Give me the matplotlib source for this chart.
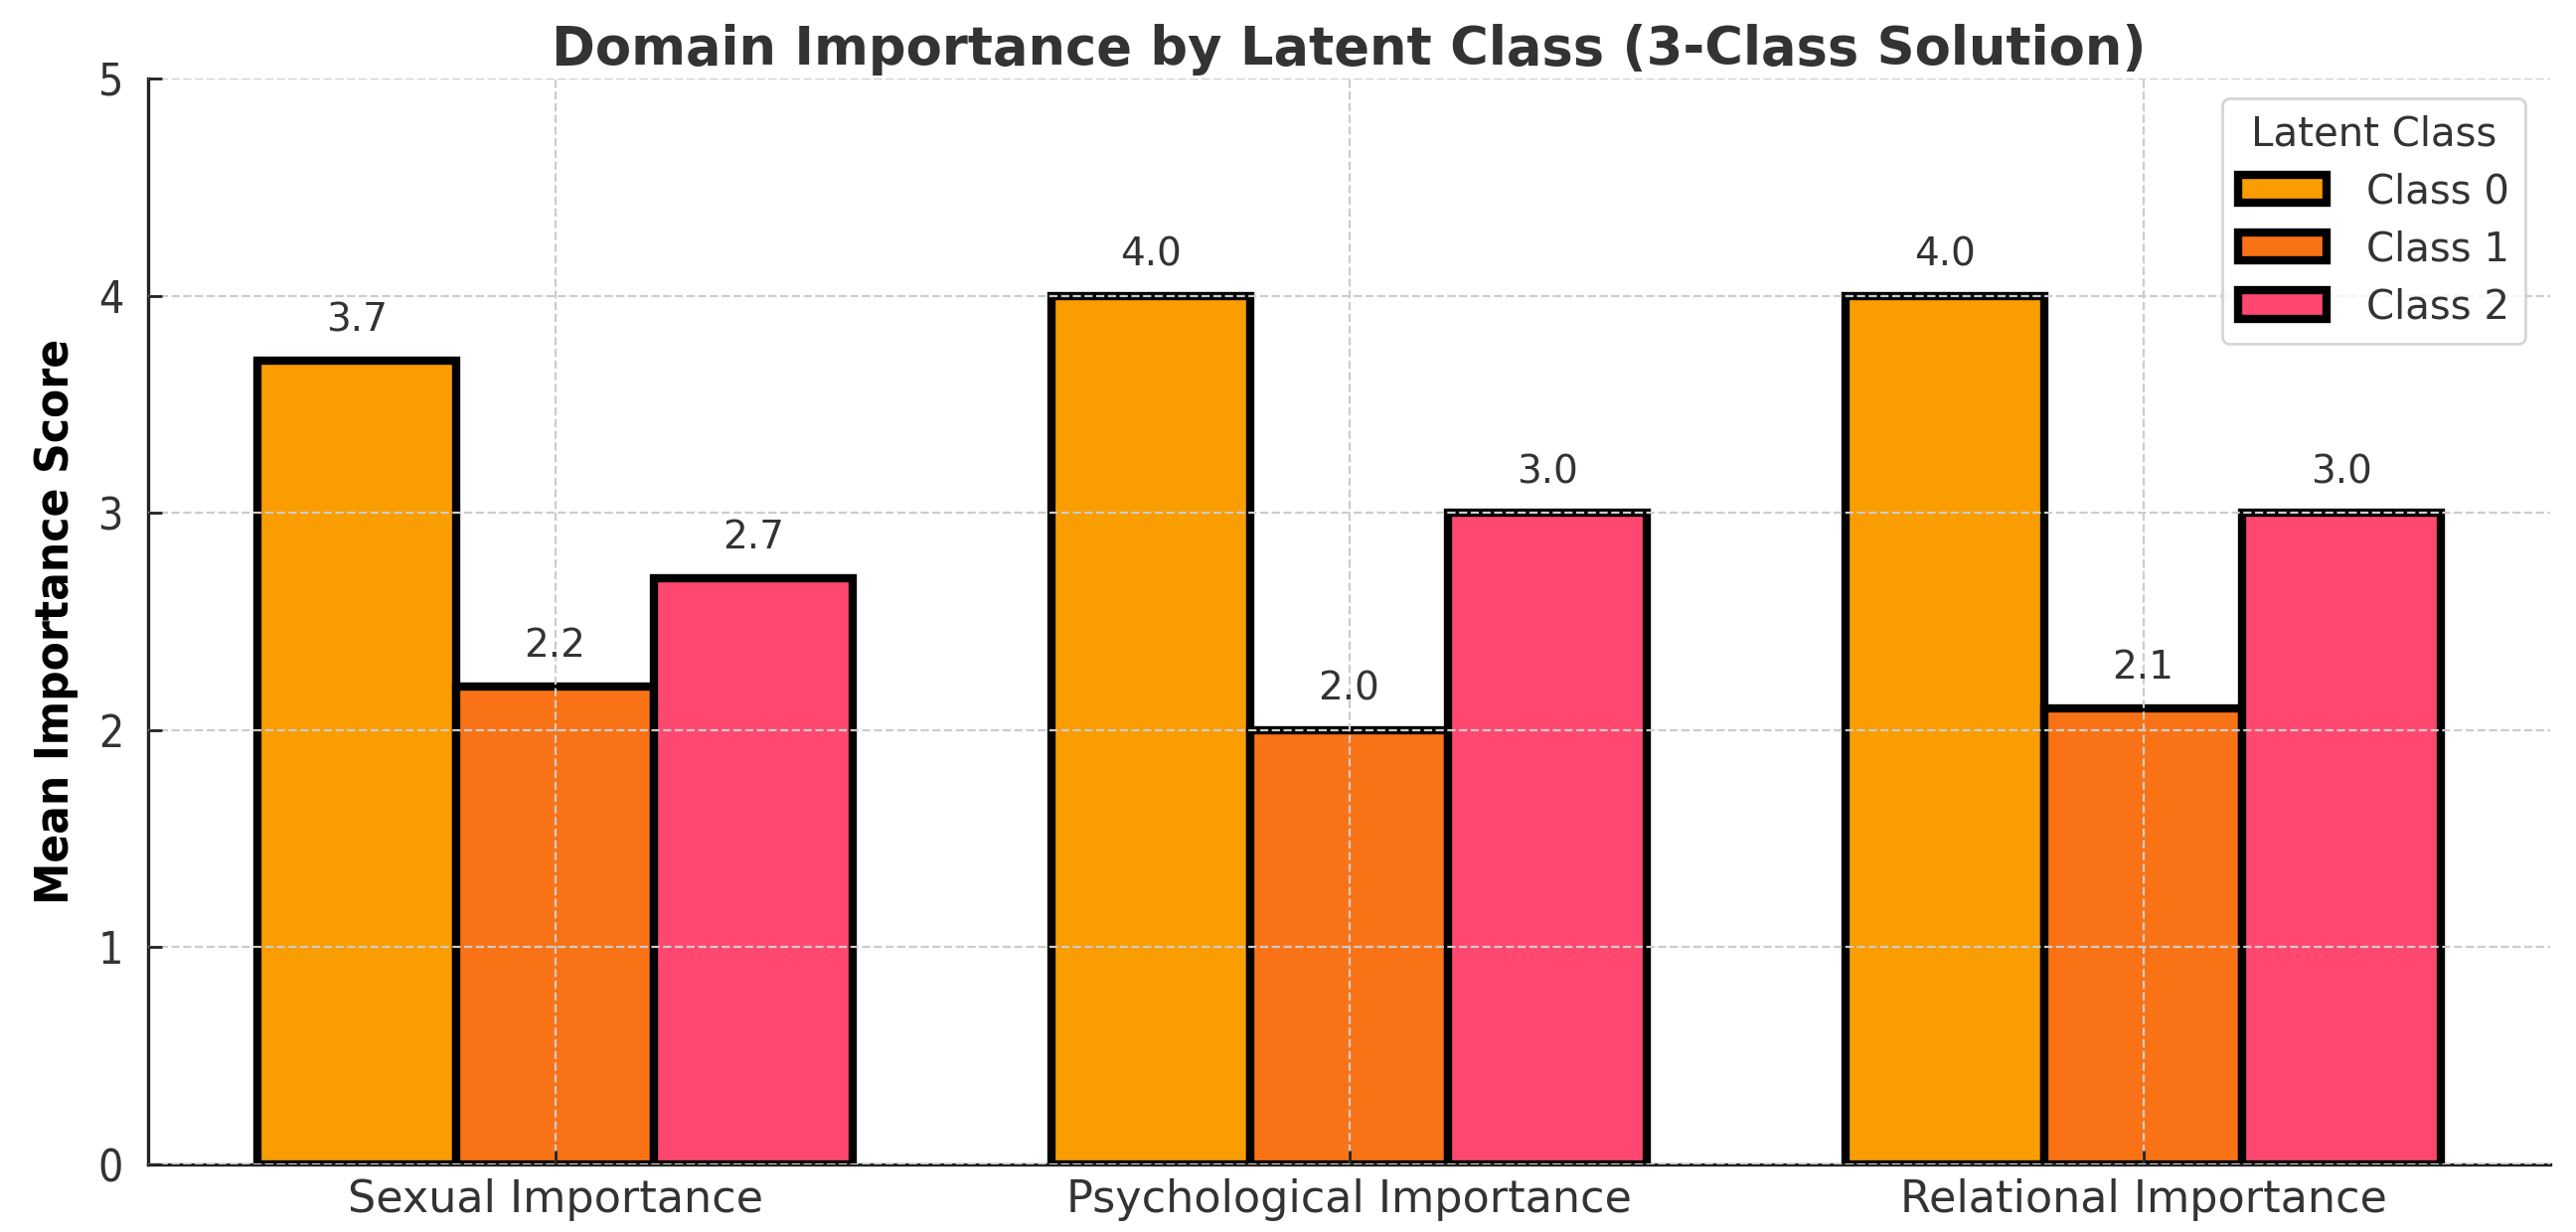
import matplotlib
matplotlib.use("Agg")
import matplotlib.pyplot as plt
import numpy as np

categories = ["Sexual Importance", "Psychological Importance", "Relational Importance"]
class_labels = ["Class 0", "Class 1", "Class 2"]
class0 = [3.7, 4.0, 4.0]
class1 = [2.2, 2.0, 2.1]
class2 = [2.7, 3.0, 3.0]
yticks = [0, 1, 2, 3, 4, 5]

colors = ["#F99D00", "#F97316", "#FF476F"]
txt = "#333333"

fig = plt.figure(figsize=(12.96, 6.2), dpi=200)
ax = fig.add_axes([0.0575, 0.0548, 0.9325, 0.8815])

x = np.arange(len(categories))
w = 0.25
series = [class0, class1, class2]
for i, (vals, lab, c) in enumerate(zip(series, class_labels, colors)):
    bars = ax.bar(x + (i - 1) * w, vals, w, label=lab, color=c,
                  edgecolor="black", linewidth=3, zorder=2)
    for b, v in zip(bars, vals):
        ax.text(b.get_x() + b.get_width() / 2, v + 0.1, f"{v:.1f}",
                ha="center", va="bottom", fontsize=14, color=txt, zorder=4)

ax.set_ylim(0, 5)
ax.set_yticks(yticks)
ax.set_xticks(x)
ax.set_xticklabels(categories, fontsize=16, color=txt)
for t in ax.get_yticklabels():
    t.set_fontsize(16)
    t.set_color(txt)
    t.set_fontstretch("condensed")
ax.grid(True, linestyle="--", color="#cccccc", linewidth=0.8, zorder=3)
ax.set_axisbelow(False)
for s in ["top", "right"]:
    ax.spines[s].set_visible(False)
for s in ["left", "bottom"]:
    ax.spines[s].set_color("#222222")
    ax.spines[s].set_linewidth(1.2)
ax.tick_params(axis="y", direction="in", length=5, width=1, color="#222222", pad=9)
ax.tick_params(axis="x", direction="in", length=5, width=1, color="#222222", pad=5)

ax.set_ylabel("Mean Importance Score", fontsize=17, fontweight="bold", color="black",
              fontstretch="condensed")
ax.yaxis.set_label_coords(-0.029, 0.5)
ax.set_title("Domain Importance by Latent Class (3-Class Solution)", fontsize=19,
             fontweight="bold", color=txt, pad=5)

leg = ax.legend(title="Latent Class", fontsize=14.5, title_fontsize=14.5, loc="upper right",
                bbox_to_anchor=(0.998, 1.0), frameon=True, fancybox=True,
                handlelength=2.2, handleheight=0.7, borderpad=0.4, labelspacing=0.45,
                handletextpad=1.0)
leg.get_frame().set_edgecolor("#cccccc")
leg.get_title().set_color(txt)
for t in leg.get_texts():
    t.set_color(txt)

fig.savefig("out.png", dpi=200)
